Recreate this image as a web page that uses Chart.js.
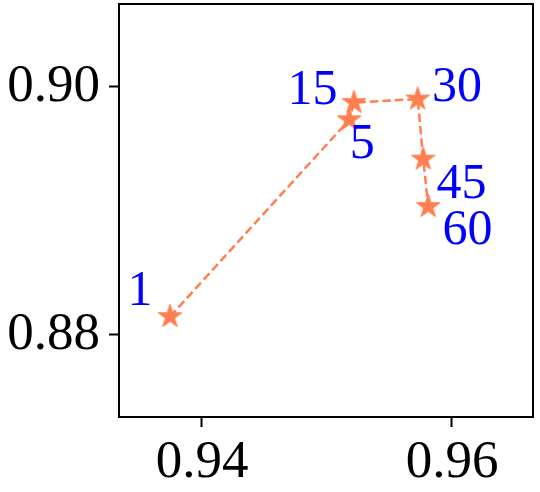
<!DOCTYPE html>
<html>
<head>
<meta charset="utf-8">
<script src="https://cdn.jsdelivr.net/npm/chart.js@4"></script>
<style>
  html, body { margin: 0; padding: 0; background: #fff; }
  #wrap { width: 540px; height: 492px; }
</style>
</head>
<body>
<div id="wrap"><canvas id="c" width="540" height="492"></canvas></div>
<script>
// ---- data ----
const pointLabels = ['1', '5', '15', '30', '45', '60'];
const xValues = [0.93744, 0.95178, 0.95216, 0.95726, 0.95770, 0.95810];
const yValues = [0.88148, 0.89734, 0.89873, 0.89901, 0.89417, 0.89035];
const xTicks = [0.94, 0.96];
const yTicks = [0.88, 0.90];
const xRange = [0.93336, 0.96648];
const yRange = [0.87339, 0.90667];

// ---- styling / layout ----
const LINE_COLOR = '#FF7F50';
const LABEL_COLOR = '#0000FF';
const SERIF = "'Times New Roman', Times, 'Liberation Serif', 'Nimbus Roman', 'Nimbus Roman No9 L', FreeSerif, serif";
// pixel offsets of each annotation (text left, baseline) from its point
const labelOffsets = [[-42.5, -11.7], [0.4, 38], [-66.5, 1.3], [14.3, 1.7], [13.2, 38.7], [14.2, 37.3]];

function makeStar(R, color) {
  const size = Math.ceil(R * 2 + 4);
  const cv = document.createElement('canvas');
  cv.width = size; cv.height = size;
  const g = cv.getContext('2d');
  const cx = size / 2, cy = size / 2, r = R * 0.381966;
  g.beginPath();
  for (let i = 0; i < 10; i++) {
    const rad = i % 2 === 0 ? R : r;
    const a = -Math.PI / 2 + i * Math.PI / 5;
    const px = cx + rad * Math.cos(a), py = cy + rad * Math.sin(a);
    if (i === 0) g.moveTo(px, py); else g.lineTo(px, py);
  }
  g.closePath();
  g.fillStyle = color; g.fill();
  g.lineWidth = 1; g.strokeStyle = color; g.stroke();
  return cv;
}

function draw() {
  const star = makeStar(12.4, LINE_COLOR);
  const points = xValues.map((x, i) => ({ x: x, y: yValues[i] }));

  const framePlugin = {
    id: 'frame',
    afterDraw(chart) {
      const { ctx, chartArea: a } = chart;
      ctx.save();
      ctx.strokeStyle = '#000';
      ctx.lineWidth = 2;
      ctx.strokeRect(a.left, a.top, a.right - a.left, a.bottom - a.top);
      ctx.restore();
    }
  };

  const labelPlugin = {
    id: 'ptlabels',
    afterDatasetsDraw(chart) {
      const { ctx } = chart;
      const xs = chart.scales.x, ys = chart.scales.y;
      ctx.save();
      ctx.fillStyle = LABEL_COLOR;
      ctx.font = '50px ' + SERIF;
      ctx.textAlign = 'left';
      ctx.textBaseline = 'alphabetic';
      pointLabels.forEach((t, i) => {
        const px = xs.getPixelForValue(xValues[i]);
        const py = ys.getPixelForValue(yValues[i]);
        ctx.fillText(t, px + labelOffsets[i][0], py + labelOffsets[i][1]);
      });
      ctx.restore();
    }
  };

  new Chart(document.getElementById('c'), {
    type: 'scatter',
    data: {
      datasets: [{
        data: points,
        showLine: true,
        borderColor: LINE_COLOR,
        borderWidth: 2.5,
        borderDash: [8.5, 4],
        backgroundColor: LINE_COLOR,
        pointStyle: star,
        pointRadius: 12,
        pointHoverRadius: 12,
        tension: 0
      }]
    },
    options: {
      responsive: false,
      animation: false,
      devicePixelRatio: 1,
      layout: { autoPadding: false, padding: { left: 0, right: 7, top: 4, bottom: 0 } },
      plugins: { legend: { display: false }, tooltip: { enabled: false } },
      scales: {
        x: {
          type: 'linear',
          min: xRange[0], max: xRange[1],
          afterBuildTicks: s => { s.ticks = xTicks.map(v => ({ value: v })); },
          afterFit: s => { s.height = 75; s.paddingLeft = 0; s.paddingRight = 0; },
          border: { display: false },
          grid: { display: true, drawOnChartArea: false, drawTicks: true, tickLength: 10, tickWidth: 2, tickColor: '#000', color: '#000' },
          ticks: { color: '#000', font: { family: SERIF, size: 53 }, padding: 4, maxRotation: 0, autoSkip: false,
                   callback: v => Number(v).toFixed(2) }
        },
        y: {
          type: 'linear',
          min: yRange[0], max: yRange[1],
          afterBuildTicks: s => { s.ticks = yTicks.map(v => ({ value: v })); },
          afterFit: s => { s.width = 119; s.paddingTop = 0; s.paddingBottom = 0; },
          border: { display: false },
          grid: { display: true, drawOnChartArea: false, drawTicks: true, tickLength: 10, tickWidth: 2, tickColor: '#000', color: '#000' },
          ticks: { color: '#000', font: { family: SERIF, size: 53 }, padding: 9, autoSkip: false,
                   callback: v => Number(v).toFixed(2) }
        }
      }
    },
    plugins: [framePlugin, labelPlugin]
  });
}

Promise.all([
  document.fonts.load("53px 'Liberation Serif'", '0.94'),
  document.fonts.load("50px 'Times New Roman'", '1530')
]).then(draw, draw);
</script>
</body>
</html>
